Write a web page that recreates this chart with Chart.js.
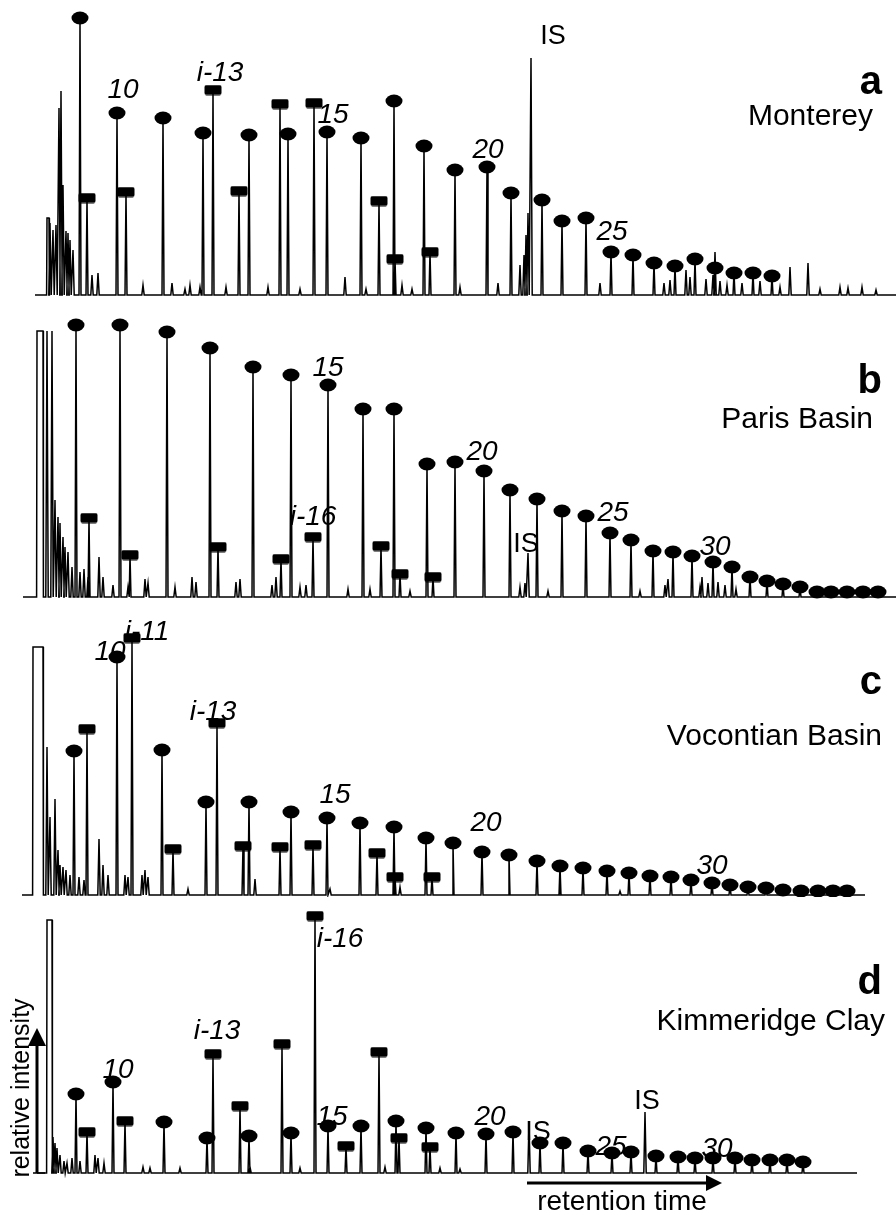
<!DOCTYPE html>
<html>
<head>
<meta charset="utf-8">
<script src="https://cdn.jsdelivr.net/npm/chart.js@4.4.1/dist/chart.umd.min.js"></script>
<style>
  html, body { margin: 0; padding: 0; background: #fff; }
  #wrap { position: relative; width: 896px; height: 1215px; overflow: hidden; }
  #wrap canvas { position: absolute; left: 0; }
</style>
</head>
<body>
<div id="wrap"></div>
<script>
// Peaks are [retention time, relative intensity]. Boxes are flat-topped solvent peaks [start, end, intensity].

// --- a: Monterey ---
const montereyN = [[80,277],[117,182],[163,177],[203,162],[249,160],[288,161],[327,163],[361,157],[394,194],[424,149],[455,125],[487,128],[511,102],[542,95],[562,74],[586,77],[611,43],[633,40],[654,32],[675,29],[695,36],[715,27],[734,22],[753,22],[772,19]];
const montereyIso = [[87,97],[126,103],[213,205],[239,104],[280,191],[314,192],[379,94],[395,36],[430,43]];
const montereyOther = [[531,237],[528,82],[526,60],[715,43],[790,28],[808,32],
  [50,72],[53,65],[56,70],[59,187],[61,204],[63,110],[66,64],[68,62],[70,55],[73,45],
  [92,20],[98,22],[143,10],[172,12],[185,6],[190,10],[200,8],[226,8],[268,8],[300,6],[345,18],[366,6],[402,10],[412,6],
  [460,8],[498,12],[520,30],[524,40],[600,12],[664,12],[670,15],[686,25],[690,18],[706,16],[713,20],[720,14],[727,10],
  [742,12],[760,14],[780,8],[820,6],[840,8],[848,7],[862,8],[876,5]];
const montereyBoxes = [[47,49,77]];
const montereyLabels = [['10',123,205],['i-13',220,222],['15',333,180],['20',488,145],['25',612,63]];
const montereyIS = [['IS',553,258]];

// --- b: Paris Basin ---
const parisN = [[76,272],[120,272],[167,265],[210,249],[253,230],[291,222],[328,212],[363,188],[394,188],[427,133],[455,135],[484,126],[510,107],[537,98],[562,86],[586,81],[610,64],[631,57],[653,46],[673,45],[692,41],[713,35],[732,30],[750,20],[767,16],[783,13],[800,10],[817,5],[831,5],[847,5],[863,5],[878,5]];
const parisIso = [[89,79],[130,42],[218,50],[281,38],[313,60],[381,51],[400,23],[433,20]];
const parisOther = [[528,44],[47,266],[52,266],
  [55,97],[58,80],[60,74],[63,60],[65,50],[68,45],[72,30],[80,25],[84,28],[88,20],[99,40],[103,20],[113,12],[128,10],
  [145,18],[148,14],[175,10],[192,20],[196,15],[236,15],[240,18],[272,12],[276,20],[300,10],[306,12],[348,8],[370,8],
  [410,6],[520,10],[525,14],[548,6],[640,6],[665,12],[668,18],[700,10],[702,20],[708,14],[718,15],[725,12],[736,8]];
const parisBoxes = [[37,43,266]];
const parisLabels = [['15',328,229],['i-16',313,80],['20',482,145],['25',613,84],['30',715,50]];
const parisIS = [['IS',526,52]];

// --- c: Vocontian Basin ---
const vocontianN = [[74,144],[117,238],[162,145],[206,93],[249,93],[291,83],[327,77],[360,72],[394,68],[426,57],[453,52],[482,43],[509,40],[537,34],[560,29],[583,27],[607,24],[629,22],[650,19],[671,18],[691,15],[712,12],[730,10],[748,8],[766,7],[783,5],[801,4],[818,4],[833,4],[847,4]];
const vocontianIso = [[87,166],[132,257],[173,46],[217,172],[243,49],[280,48],[313,50],[377,42],[395,18],[432,18]];
const vocontianOther = [[47,148],[50,78],[55,96],[99,56],
  [58,45],[60,30],[63,28],[66,25],[70,20],[79,18],[84,15],[103,30],[108,20],[125,20],[128,18],[142,20],[145,25],[148,18],
  [188,6],[255,16],[330,6],[400,8],[560,5],[620,4]];
const vocontianBoxes = [[33,43,248]];
const vocontianLabels = [['10',110,243],['i-11',147,263],['i-13',213,183],['15',335,100],['20',486,72],['30',712,29]];
const vocontianIS = [];

// --- d: Kimmeridge Clay ---
const kimmN = [[76,79],[113,91],[164,51],[207,35],[249,37],[291,40],[328,47],[361,47],[396,52],[426,45],[456,40],[486,39],[513,41],[540,30],[563,30],[588,22],[612,20],[631,21],[656,17],[678,16],[695,15],[713,15],[735,15],[752,13],[770,13],[787,13],[803,11]];
const kimmIso = [[87,41],[125,52],[213,119],[240,67],[282,129],[315,257],[346,27],[379,121],[399,35],[430,26]];
const kimmOther = [[529,50],[645,61],
  [53,36],[55,30],[57,25],[60,18],[64,12],[67,10],[72,15],[80,12],[95,18],[98,15],[104,10],[143,6],[150,5],[180,5],
  [250,6],[300,5],[385,6],[440,5],[460,4]];
const kimmBoxes = [[47,52,253]];
const kimmLabels = [['10',118,103],['i-13',217,142],['i-16',340,234],['15',332,56],['20',490,56],['25',611,26],['30',717,24]];
const kimmIS = [['IS',538,40],['IS',647,71]];

const FONT = '"Liberation Sans", Arial, Helvetica, sans-serif';

// page layout of the four stacked traces
const panels = [
  { top: 0,   base: 295,  bottom: 300,  start: 35, end: 896, n: montereyN,  iso: montereyIso,  other: montereyOther,  boxes: montereyBoxes,  labels: montereyLabels,  is: montereyIS,  letter: 'a', name: 'Monterey',        letterH: 212, nameH: 178, nameX: 873 },
  { top: 300, base: 597,  bottom: 600,  start: 23, end: 896, n: parisN,     iso: parisIso,     other: parisOther,     boxes: parisBoxes,     labels: parisLabels,     is: parisIS,     letter: 'b', name: 'Paris Basin',     letterH: 215, nameH: 177, nameX: 873 },
  { top: 600, base: 895,  bottom: 897,  start: 22, end: 865, n: vocontianN, iso: vocontianIso, other: vocontianOther, boxes: vocontianBoxes, labels: vocontianLabels, is: vocontianIS, letter: 'c', name: 'Vocontian Basin', letterH: 212, nameH: 158, nameX: 882 },
  { top: 897, base: 1173, bottom: 1215, start: 33, end: 857, n: kimmN,      iso: kimmIso,      other: kimmOther,      boxes: kimmBoxes,      labels: kimmLabels,      is: kimmIS,      letter: 'd', name: 'Kimmeridge Clay', letterH: 190, nameH: 151, nameX: 885, axes: true }
];

function makeMarker(w, h, kind) {
  const c = document.createElement('canvas');
  c.width = w;
  c.height = h;
  const g = c.getContext('2d');
  g.fillStyle = '#000';
  g.beginPath();
  if (kind === 'ellipse') {
    g.ellipse(w / 2, h / 2, w / 2 - 0.5, h / 2 - 0.5, 0, 0, Math.PI * 2);
  } else if (g.roundRect) {
    g.roundRect(0.5, 0.5, w - 1, h - 1, 2);
  } else {
    g.rect(0.5, 0.5, w - 1, h - 1);
  }
  g.fill();
  return c;
}
const ellipseImg = makeMarker(18, 14, 'ellipse');
const rectImg = makeMarker(18, 11, 'rect');

// chromatogram trace: baseline with a narrow spike for every peak
function buildTrace(p) {
  const items = [];
  p.n.concat(p.iso).forEach(([x, h]) => items.push({ x, pts: [[x - 1, 0], [x, h], [x + 1, 0]] }));
  p.other.forEach(([x, h]) => items.push({ x, pts: [[x - 1.2, 0], [x, h], [x + 1.2, 0]] }));
  p.boxes.forEach(([x1, x2, h]) => items.push({ x: x1, pts: [[x1 - 0.4, 0], [x1, h], [x2, h], [x2 + 0.4, 0]] }));
  items.sort((a, b) => a.x - b.x);
  const data = [{ x: p.start, y: 0 }];
  items.forEach(it => it.pts.forEach(([x, y]) => data.push({ x, y })));
  data.push({ x: p.end, y: 0 });
  return data;
}

function arrow(ctx, x1, y1, x2, y2, head, half) {
  const ang = Math.atan2(y2 - y1, x2 - x1);
  const bx = x2 - head * Math.cos(ang), by = y2 - head * Math.sin(ang);
  ctx.beginPath();
  ctx.moveTo(x1, y1);
  ctx.lineTo(bx, by);
  ctx.stroke();
  ctx.beginPath();
  ctx.moveTo(x2, y2);
  ctx.lineTo(bx + half * Math.sin(ang), by - half * Math.cos(ang));
  ctx.lineTo(bx - half * Math.sin(ang), by + half * Math.cos(ang));
  ctx.closePath();
  ctx.fill();
}

function annotator(p) {
  return {
    id: 'annotate',
    afterDatasetsDraw(chart) {
      const ctx = chart.ctx;
      const xs = chart.scales.x, ys = chart.scales.y;
      ctx.save();
      ctx.fillStyle = '#000';
      ctx.strokeStyle = '#000';
      ctx.textBaseline = 'middle';
      ctx.textAlign = 'center';
      ctx.font = 'italic 28px ' + FONT;
      p.labels.forEach(([t, x, h]) => ctx.fillText(t, xs.getPixelForValue(x), ys.getPixelForValue(h)));
      ctx.font = '27px ' + FONT;
      p.is.forEach(([t, x, h]) => ctx.fillText(t, xs.getPixelForValue(x), ys.getPixelForValue(h)));
      ctx.textAlign = 'right';
      ctx.font = 'bold 40px ' + FONT;
      ctx.fillText(p.letter, xs.getPixelForValue(882), ys.getPixelForValue(p.letterH));
      ctx.font = '30px ' + FONT;
      ctx.fillText(p.name, xs.getPixelForValue(p.nameX), ys.getPixelForValue(p.nameH));
      if (p.axes) {
        ctx.lineWidth = 3;
        arrow(ctx, xs.getPixelForValue(37), ys.getPixelForValue(0), xs.getPixelForValue(37), ys.getPixelForValue(145), 18, 9);
        arrow(ctx, xs.getPixelForValue(527), ys.getPixelForValue(-10), xs.getPixelForValue(722), ys.getPixelForValue(-10), 16, 8);
        ctx.lineWidth = 1.5;
        ctx.beginPath();
        ctx.moveTo(xs.getPixelForValue(37), ys.getPixelForValue(0));
        ctx.lineTo(xs.getPixelForValue(45), ys.getPixelForValue(0));
        ctx.stroke();
        ctx.textAlign = 'center';
        ctx.font = '28px ' + FONT;
        ctx.fillText('retention time', xs.getPixelForValue(622), ys.getPixelForValue(-29));
        ctx.save();
        ctx.translate(xs.getPixelForValue(22), ys.getPixelForValue(85));
        ctx.rotate(-Math.PI / 2);
        ctx.font = '25px ' + FONT;
        ctx.fillText('relative intensity', 0, 0);
        ctx.restore();
      }
      ctx.restore();
    }
  };
}

const wrap = document.getElementById('wrap');
panels.forEach(p => {
  const cv = document.createElement('canvas');
  const h = p.bottom - p.top;
  cv.width = 896;
  cv.height = h;
  cv.style.top = p.top + 'px';
  cv.style.width = '896px';
  cv.style.height = h + 'px';
  wrap.appendChild(cv);

  new Chart(cv.getContext('2d'), {
    type: 'line',
    data: {
      datasets: [
        {
          label: 'n-alkanes',
          data: p.n.map(([x, y]) => ({ x, y })),
          showLine: false,
          pointStyle: ellipseImg,
          pointRadius: 6,
          clip: false,
          order: 0
        },
        {
          label: 'isoprenoids',
          data: p.iso.map(([x, y]) => ({ x, y })),
          showLine: false,
          pointStyle: rectImg,
          pointRadius: 6,
          clip: false,
          order: 0
        },
        {
          label: 'trace',
          data: buildTrace(p),
          borderColor: '#000',
          borderWidth: 1.5,
          pointRadius: 0,
          tension: 0,
          fill: false,
          clip: false,
          order: 1
        }
      ]
    },
    options: {
      responsive: false,
      animation: false,
      events: [],
      devicePixelRatio: 1,
      layout: { padding: 0, autoPadding: false },
      plugins: { legend: { display: false }, tooltip: { enabled: false }, title: { display: false } },
      scales: {
        x: { type: 'linear', min: 0, max: 896, display: false },
        y: { type: 'linear', min: -(p.bottom - p.base), max: p.base - p.top, display: false }
      }
    },
    plugins: [annotator(p)]
  });
});
</script>
</body>
</html>
